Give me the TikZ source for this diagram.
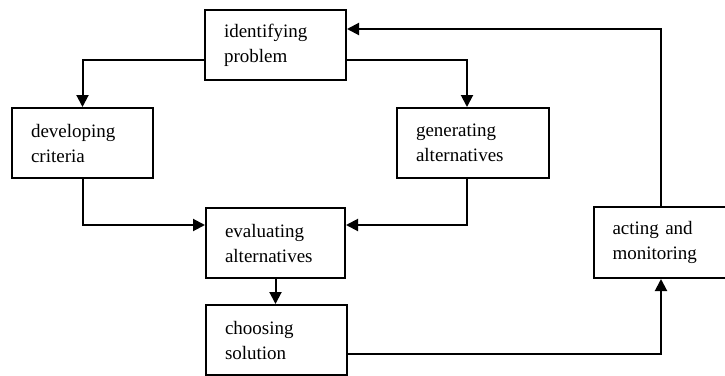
\documentclass[tikz,border=0pt]{standalone}
\usepackage{fontspec}
\setmainfont{Liberation Serif}
\usetikzlibrary{arrows.meta}
\begin{document}
\begin{tikzpicture}[x=1pt,y=-1pt,
  stepbox/.style={draw,line width=2pt,rectangle,minimum height=70pt,inner xsep=19pt,inner ysep=0pt,
    align=left,font=\fontsize{19}{25}\selectfont},
  arr/.style={line width=2pt,-{Triangle[length=12pt,width=12pt]}}]
\useasboundingbox (0,0) rectangle (725,375);
\node[stepbox,text width=103pt] (ident) at (275.5,45) {identifying\\problem};
\node[stepbox,text width=103pt] (dev) at (82.5,143) {developing\\criteria};
\node[stepbox,text width=114pt] (gen) at (473,143) {generating\\alternatives};
\node[stepbox,text width=101pt] (eval) at (275.5,243) {evaluating\\alternatives};
\node[stepbox,text width=103pt] (choose) at (276.5,340) {choosing\\solution};
\node[stepbox,text width=97pt,minimum height=71pt] (act) at (661,242.5) {acting and\\monitoring};
\draw[arr] ([yshift=-15pt]ident.west) -| (dev.north);
\draw[arr] ([yshift=-15pt]ident.east) -| ([xshift=-6pt]gen.north);
\draw[arr] (dev.south) |- ([yshift=18pt]eval.west);
\draw[arr] ([xshift=-6pt]gen.south) |- ([yshift=18pt]eval.east);
\draw[arr] (eval.south) -- (eval.south |- choose.north);
\draw[arr] ([yshift=-14pt]choose.east) -| (act.south);
\draw[arr] (act.north) |- ([yshift=16pt]ident.east);
\end{tikzpicture}
\end{document}
